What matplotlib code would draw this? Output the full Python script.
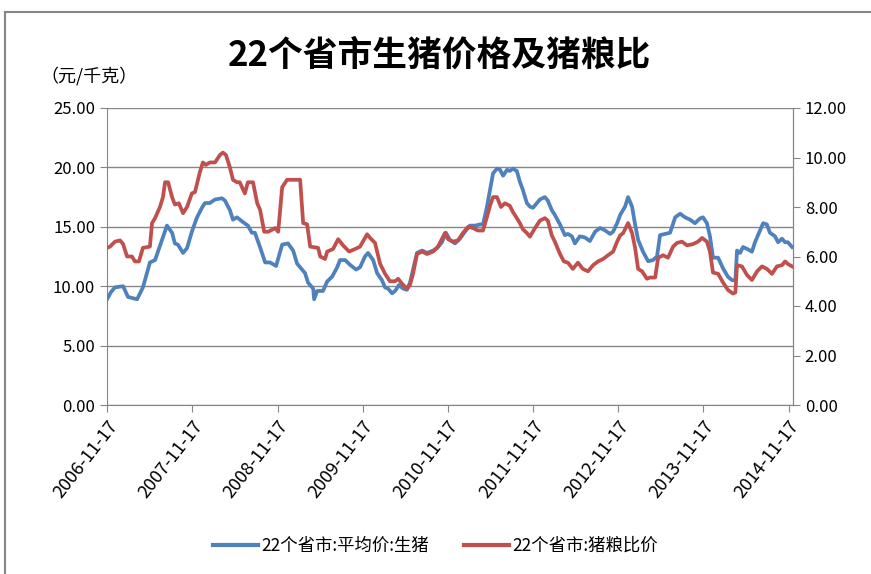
import matplotlib
matplotlib.use("Agg")
import matplotlib.pyplot as plt
import matplotlib.dates as mdates
from matplotlib.lines import Line2D
import pandas as pd

plt.rcParams['font.family'] = ['Noto Sans CJK SC', 'DejaVu Sans']

title = "22个省市生猪价格及猪粮比"
unit_label = "（元/千克）"
label_price = "22个省市:平均价:生猪"
label_ratio = "22个省市:猪粮比价"

# 22个省市:平均价:生猪 (元/千克), left axis
price_dates = [
    "2006-11-17", "2006-12-04", "2006-12-21", "2007-01-25", "2007-02-15", "2007-03-26",
    "2007-04-20", "2007-05-20", "2007-06-11", "2007-07-11", "2007-08-01", "2007-08-23",
    "2007-09-04", "2007-09-17", "2007-10-09", "2007-10-26", "2007-11-16", "2007-12-08",
    "2007-12-29", "2008-01-11", "2008-02-01", "2008-02-23", "2008-03-24", "2008-04-06",
    "2008-04-27", "2008-05-10", "2008-05-27", "2008-06-22", "2008-07-13", "2008-07-30",
    "2008-08-12", "2008-09-03", "2008-09-25", "2008-10-16", "2008-11-11", "2008-12-07",
    "2009-01-01", "2009-01-23", "2009-02-09", "2009-03-02", "2009-03-15", "2009-03-28",
    "2009-04-19", "2009-04-23", "2009-05-06", "2009-05-31", "2009-06-18", "2009-07-09",
    "2009-07-31", "2009-08-12", "2009-09-03", "2009-09-24", "2009-10-20", "2009-11-06",
    "2009-11-27", "2009-12-10", "2010-01-01", "2010-01-18", "2010-02-08", "2010-02-21",
    "2010-03-06", "2010-03-23", "2010-04-05", "2010-04-22", "2010-05-09", "2010-05-26",
    "2010-06-08", "2010-06-21", "2010-07-08", "2010-07-30", "2010-08-20", "2010-09-15",
    "2010-10-02", "2010-10-23", "2010-11-09", "2010-11-26", "2010-12-18", "2011-01-08",
    "2011-01-30", "2011-02-20", "2011-03-14", "2011-04-04", "2011-04-17", "2011-05-04",
    "2011-05-17", "2011-05-30", "2011-06-16", "2011-06-29", "2011-07-12", "2011-07-29",
    "2011-08-10", "2011-08-23", "2011-09-09", "2011-09-22", "2011-10-05", "2011-10-22",
    "2011-11-04", "2011-11-17", "2011-12-04", "2011-12-17", "2012-01-07", "2012-01-20",
    "2012-02-06", "2012-02-19", "2012-03-12", "2012-04-02", "2012-04-15", "2012-05-02",
    "2012-05-15", "2012-06-05", "2012-06-27", "2012-07-18", "2012-08-10", "2012-08-31",
    "2012-09-21", "2012-10-13", "2012-10-26", "2012-11-12", "2012-11-25", "2012-12-16",
    "2012-12-29", "2013-01-15", "2013-01-28", "2013-02-10", "2013-03-03", "2013-03-25",
    "2013-04-15", "2013-05-02", "2013-05-15", "2013-06-06", "2013-06-27", "2013-07-19",
    "2013-08-09", "2013-08-30", "2013-09-21", "2013-10-12", "2013-11-02", "2013-11-15",
    "2013-12-02", "2013-12-15", "2013-12-28", "2014-01-19", "2014-02-09", "2014-03-02",
    "2014-03-20", "2014-04-03", "2014-04-10", "2014-04-23", "2014-05-06", "2014-05-27",
    "2014-06-13", "2014-06-26", "2014-07-09", "2014-07-31", "2014-08-16", "2014-08-29",
    "2014-09-20", "2014-10-03", "2014-10-20", "2014-11-02", "2014-11-14", "2014-12-02",
]
price_values = [
    8.9, 9.5, 9.9, 10.0, 9.1, 8.9,
    9.9, 12.0, 12.2, 13.9, 15.1, 14.5,
    13.6, 13.5, 12.8, 13.2, 14.6, 15.8,
    16.6, 17.0, 17.0, 17.3, 17.4, 17.2,
    16.4, 15.6, 15.8, 15.4, 15.1, 14.5,
    14.5, 13.3, 12.0, 12.0, 11.7, 13.5,
    13.6, 13.0, 11.9, 11.4, 11.1, 10.3,
    9.8, 8.9, 9.6, 9.6, 10.4, 10.8,
    11.6, 12.2, 12.2, 11.8, 11.4, 11.6,
    12.5, 12.8, 12.2, 11.1, 10.5, 9.9,
    9.8, 9.4, 9.6, 10.1, 9.8, 9.7,
    10.3, 11.4, 12.8, 13.0, 12.8, 13.0,
    13.2, 13.7, 14.5, 13.9, 13.6, 14.0,
    14.6, 15.1, 15.1, 15.2, 15.2, 16.7,
    18.1, 19.5, 19.9, 19.8, 19.3, 19.8,
    19.7, 19.9, 19.7, 18.8, 18.1, 17.0,
    16.7, 16.6, 17.0, 17.3, 17.5, 17.2,
    16.4, 16.0, 15.2, 14.3, 14.4, 14.2,
    13.6, 14.2, 14.1, 13.8, 14.6, 14.9,
    14.7, 14.4, 14.6, 15.3, 16.0, 16.7,
    17.5, 16.7, 15.2, 13.9, 12.9, 12.1,
    12.2, 12.5, 14.3, 14.4, 14.5, 15.8,
    16.1, 15.8, 15.6, 15.3, 15.7, 15.8,
    15.3, 14.2, 12.4, 12.4, 11.5, 10.8,
    10.5, 10.5, 13.0, 12.8, 13.3, 13.1,
    12.9, 13.7, 14.3, 15.3, 15.2, 14.5,
    14.2, 13.7, 14.0, 13.7, 13.7, 13.3,
]

# 22个省市:猪粮比价, right axis
ratio_dates = [
    "2006-11-17", "2006-11-30", "2006-12-21", "2007-01-12", "2007-01-25", "2007-02-11",
    "2007-03-04", "2007-03-17", "2007-04-03", "2007-04-20", "2007-05-20", "2007-05-29",
    "2007-06-11", "2007-07-02", "2007-07-15", "2007-07-24", "2007-08-06", "2007-08-23",
    "2007-09-04", "2007-09-21", "2007-10-09", "2007-10-26", "2007-11-16", "2007-11-29",
    "2007-12-20", "2008-01-02", "2008-01-15", "2008-02-01", "2008-02-23", "2008-03-15",
    "2008-03-28", "2008-04-10", "2008-04-27", "2008-05-10", "2008-05-27", "2008-06-08",
    "2008-06-30", "2008-07-13", "2008-08-04", "2008-08-22", "2008-09-03", "2008-09-21",
    "2008-10-08", "2008-11-07", "2008-11-20", "2008-12-07", "2008-12-28", "2009-02-22",
    "2009-03-07", "2009-03-24", "2009-04-06", "2009-05-10", "2009-05-19", "2009-06-09",
    "2009-06-18", "2009-07-13", "2009-08-04", "2009-08-25", "2009-09-20", "2009-10-15",
    "2009-11-06", "2009-12-06", "2009-12-19", "2010-01-09", "2010-01-31", "2010-02-21",
    "2010-03-14", "2010-04-05", "2010-04-18", "2010-05-05", "2010-05-26", "2010-06-08",
    "2010-06-21", "2010-07-08", "2010-07-30", "2010-08-20", "2010-09-15", "2010-10-06",
    "2010-11-05", "2010-11-18", "2010-12-09", "2010-12-31", "2011-01-21", "2011-02-12",
    "2011-03-05", "2011-03-26", "2011-04-17", "2011-05-04", "2011-05-17", "2011-05-30",
    "2011-06-16", "2011-07-03", "2011-07-20", "2011-08-10", "2011-08-23", "2011-09-09",
    "2011-09-22", "2011-10-05", "2011-10-22", "2011-11-04", "2011-11-26", "2011-12-17",
    "2012-01-07", "2012-01-20", "2012-02-06", "2012-02-19", "2012-03-12", "2012-03-29",
    "2012-04-15", "2012-05-06", "2012-05-28", "2012-06-18", "2012-07-10", "2012-08-01",
    "2012-08-22", "2012-09-13", "2012-10-04", "2012-10-26", "2012-11-12", "2012-11-25",
    "2012-12-08", "2012-12-29", "2013-01-15", "2013-01-28", "2013-02-10", "2013-02-27",
    "2013-03-20", "2013-04-02", "2013-04-24", "2013-05-07", "2013-05-28", "2013-06-18",
    "2013-07-10", "2013-07-27", "2013-08-17", "2013-09-08", "2013-10-03", "2013-10-25",
    "2013-11-11", "2013-12-02", "2013-12-15", "2013-12-28", "2014-01-19", "2014-02-09",
    "2014-03-02", "2014-03-24", "2014-04-03", "2014-04-10", "2014-05-01", "2014-05-23",
    "2014-06-13", "2014-07-05", "2014-07-26", "2014-08-16", "2014-09-07", "2014-09-28",
    "2014-10-20", "2014-11-02", "2014-11-14", "2014-12-02",
]
ratio_values = [
    6.35, 6.4, 6.6, 6.65, 6.5, 6.0,
    6.0, 5.8, 5.8, 6.35, 6.4, 7.35,
    7.55, 8.0, 8.4, 9.0, 9.0, 8.4,
    8.1, 8.15, 7.75, 8.0, 8.55, 8.6,
    9.4, 9.8, 9.7, 9.8, 9.8, 10.1,
    10.2, 10.1, 9.6, 9.1, 9.0, 9.0,
    8.55, 9.0, 9.0, 8.15, 7.9, 7.0,
    7.0, 7.15, 7.0, 8.8, 9.1, 9.1,
    7.35, 7.3, 6.4, 6.35, 6.0, 5.9,
    6.2, 6.3, 6.7, 6.45, 6.2, 6.3,
    6.4, 6.9, 6.75, 6.55, 5.7, 5.3,
    5.0, 5.0, 5.1, 4.9, 4.7, 4.85,
    5.3, 6.1, 6.2, 6.1, 6.2, 6.4,
    6.95, 6.7, 6.6, 6.65, 6.95, 7.2,
    7.15, 7.05, 7.05, 7.6, 8.05, 8.4,
    8.4, 8.0, 8.15, 8.05, 7.8, 7.55,
    7.35, 7.1, 6.95, 6.8, 7.15, 7.45,
    7.55, 7.45, 6.85, 6.6, 6.1, 5.8,
    5.75, 5.5, 5.75, 5.5, 5.4, 5.65,
    5.8, 5.9, 6.05, 6.2, 6.6, 6.85,
    6.95, 7.35, 6.95, 6.35, 5.5, 5.4,
    5.1, 5.15, 5.15, 5.95, 6.05, 5.95,
    6.4, 6.55, 6.6, 6.45, 6.5, 6.6,
    6.75, 6.6, 6.2, 5.35, 5.3, 4.95,
    4.65, 4.5, 4.55, 5.65, 5.6, 5.25,
    5.05, 5.4, 5.6, 5.5, 5.3, 5.6,
    5.65, 5.8, 5.7, 5.6,
]

year_ticks = ["2006-11-17", "2007-11-17", "2008-11-17", "2009-11-17", "2010-11-17",
              "2011-11-17", "2012-11-17", "2013-11-17", "2014-11-17"]

blue = "#4F81BD"
red = "#C0504D"
grey = "#868686"

fig = plt.figure(figsize=(8.71, 5.74), dpi=100)
ax = fig.add_axes([107 / 871, 1 - 405 / 574, (793 - 107) / 871, (405 - 108) / 574])
ax2 = ax.twinx()

ax.plot(pd.to_datetime(price_dates), price_values, color=blue, lw=2.7,
        solid_joinstyle="round", zorder=3)
ax2.plot(pd.to_datetime(ratio_dates), ratio_values, color=red, lw=2.7,
         solid_joinstyle="round", zorder=3)

ax.set_ylim(0, 25)
ax.set_yticks([0, 5, 10, 15, 20, 25])
ax.yaxis.set_major_formatter(matplotlib.ticker.FormatStrFormatter("%.2f"))
ax2.set_ylim(0, 12)
ax2.set_yticks([0, 2, 4, 6, 8, 10, 12])
ax2.yaxis.set_major_formatter(matplotlib.ticker.FormatStrFormatter("%.2f"))

ax.set_xlim(pd.Timestamp("2006-11-17"), pd.Timestamp("2014-12-06"))
ax.set_xticks(pd.to_datetime(year_ticks))
ax.xaxis.set_major_formatter(mdates.DateFormatter("%Y-%m-%d"))
ax.tick_params(axis="x", labelsize=13, pad=4)
for lbl in ax.get_xticklabels():
    lbl.set_rotation(52)
    lbl.set_ha("right")
    lbl.set_rotation_mode("anchor")

ax.grid(axis="y", color=grey, lw=1.0)
ax.set_axisbelow(True)
for a in (ax, ax2):
    a.spines["top"].set_visible(False)
    for s in ("left", "right", "bottom"):
        a.spines[s].set_color(grey)
    a.tick_params(axis="y", colors=grey, labelcolor="black", labelsize=12, length=5)
ax.tick_params(axis="x", colors=grey, labelcolor="black", length=5)
ax2.spines["left"].set_visible(False)
ax2.spines["bottom"].set_visible(False)

fig.text(0.505, 1 - 55 / 574, title, ha="center", va="center", fontsize=25,
         fontweight="bold")
fig.text(40 / 871, 1 - 76 / 574, unit_label, ha="left", va="center", fontsize=13)

handles = [Line2D([], [], color=blue, lw=3), Line2D([], [], color=red, lw=3)]
fig.legend(handles, [label_price, label_ratio], loc="center",
           bbox_to_anchor=(0.5, 1 - 546 / 574), ncol=2, frameon=False,
           fontsize=12.5, handlelength=2.6, handletextpad=0.2, columnspacing=2.0)

# chart border (top and left edges visible)
fig.add_artist(Line2D([5 / 871, 5 / 871], [0, 1 - 12 / 574], color=grey, lw=1.5))
fig.add_artist(Line2D([5 / 871, 1], [1 - 12 / 574, 1 - 12 / 574], color=grey, lw=1.5))

fig.savefig("out.png", dpi=100)
